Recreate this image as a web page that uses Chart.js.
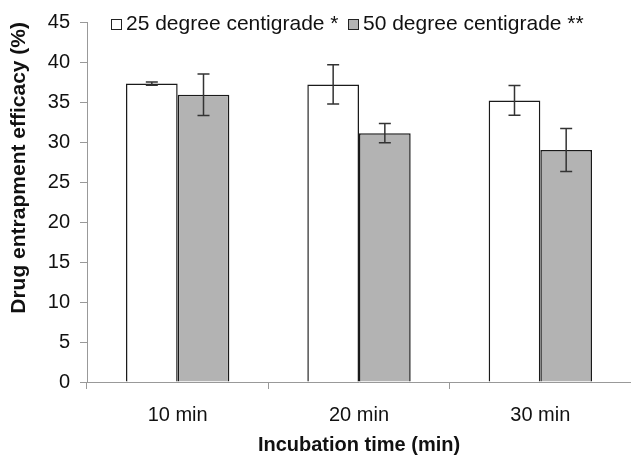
<!DOCTYPE html>
<html>
<head>
<meta charset="utf-8">
<script src="https://cdn.jsdelivr.net/npm/chart.js@4.4.1/dist/chart.umd.min.js"></script>
<style>
  html, body { margin: 0; padding: 0; background: #fff; }
  #wrap { width: 631px; height: 455px; position: relative; }
</style>
</head>
<body>
<div id="wrap"><canvas id="chart"></canvas></div>
<script>
const categories = ['10 min', '20 min', '30 min'];
const seriesNames = ['25 degree centigrade *', '50 degree centigrade **'];
const values25 = [37.3, 37.2, 35.2];
const errors25 = [0.2, 2.45, 1.85];
const values50 = [35.9, 31.1, 29.0];
const errors50 = [2.6, 1.2, 2.7];

const FONT = '"Liberation Sans", Arial, sans-serif';
const errorBars = [errors25, errors50];
const legendX = [111, 348];

// error bars + legend drawn on top of the bars
const extras = {
  id: 'extras',
  afterDatasetsDraw(chart) {
    const ctx = chart.ctx;
    const y = chart.scales.y;
    ctx.save();
    ctx.strokeStyle = '#333';
    ctx.lineWidth = 1.5;
    chart.data.datasets.forEach((ds, i) => {
      chart.getDatasetMeta(i).data.forEach((bar, j) => {
        const v = ds.data[j], e = errorBars[i][j];
        const top = y.getPixelForValue(v + e);
        const bot = y.getPixelForValue(v - e);
        ctx.beginPath();
        ctx.moveTo(bar.x, top); ctx.lineTo(bar.x, bot);
        ctx.moveTo(bar.x - 6, top); ctx.lineTo(bar.x + 6, top);
        ctx.moveTo(bar.x - 6, bot); ctx.lineTo(bar.x + 6, bot);
        ctx.stroke();
      });
    });

    // legend
    ctx.font = '21px ' + FONT;
    ctx.textBaseline = 'middle';
    ctx.textAlign = 'left';
    const cy = 24;
    chart.data.datasets.forEach((ds, i) => {
      const x = legendX[i];
      ctx.fillStyle = ds.backgroundColor;
      ctx.fillRect(x, cy - 5, 10, 10);
      ctx.strokeStyle = '#222';
      ctx.lineWidth = 1;
      ctx.strokeRect(x + 0.5, cy - 4.5, 10, 10);
      ctx.fillStyle = '#111';
      ctx.fillText(ds.label, x + 15, cy);
    });
    ctx.restore();
  }
};

new Chart(document.getElementById('chart'), {
  type: 'bar',
  data: {
    labels: categories,
    datasets: [
      {
        label: seriesNames[0],
        data: values25,
        backgroundColor: '#ffffff',
        borderColor: '#1a1a1a',
        borderWidth: 1.5
      },
      {
        label: seriesNames[1],
        data: values50,
        backgroundColor: '#b3b3b3',
        borderColor: '#1a1a1a',
        borderWidth: 1.5
      }
    ]
  },
  options: {
    responsive: true,
    maintainAspectRatio: false,
    devicePixelRatio: 1,
    animation: false,
    layout: { padding: { top: 22, right: 0, left: 0, bottom: 0 } },
    datasets: { bar: { categoryPercentage: 0.57, barPercentage: 1.0 } },
    plugins: {
      legend: { display: false },
      tooltip: { enabled: false }
    },
    scales: {
      x: {
        grid: { drawOnChartArea: false, drawTicks: true, tickLength: 7, color: '#999' },
        border: { color: '#999', width: 1 },
        ticks: { color: '#111', font: { family: FONT, size: 20 }, padding: 14 },
        title: {
          display: true,
          text: 'Incubation time (min)',
          color: '#111',
          font: { family: FONT, size: 20, weight: 'bold', lineHeight: 0.95 },
          padding: { top: 0, bottom: 0 }
        },
        afterFit(scale) { scale.height = 73; }
      },
      y: {
        min: 0,
        max: 45,
        grid: { drawOnChartArea: false, drawTicks: true, tickLength: 7, color: '#999' },
        border: { color: '#999', width: 1 },
        ticks: { stepSize: 5, color: '#111', font: { family: FONT, size: 20 }, padding: 10 },
        title: {
          display: true,
          text: 'Drug entrapment efficacy (%)',
          align: 'end',
          color: '#111',
          font: { family: FONT, size: 21, weight: 'bold' },
          padding: { top: 7, bottom: 0 }
        },
        afterFit(scale) { scale.width = 87; }
      }
    }
  },
  plugins: [extras]
});
</script>
</body>
</html>
